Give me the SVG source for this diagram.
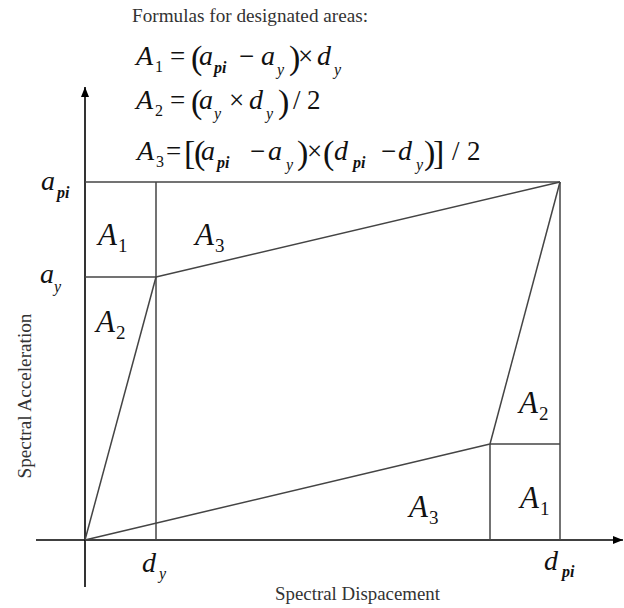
<svg xmlns="http://www.w3.org/2000/svg" width="624" height="608" viewBox="0 0 624 608">
<defs>
<style>
.ax{stroke:#000;stroke-width:1.6;fill:none}
.ln{stroke:#444;stroke-width:1.5;fill:none}
.t{font-size:18px;fill:#333}
.m{font-size:28px;font-style:italic}
.o{font-size:27px}
.p{font-size:34px}
.s{font-size:16px;font-style:italic}
.sb{font-size:16px;font-style:italic;font-weight:bold}
.n{font-size:16px}
.L{font-size:31px;font-style:italic}
.Ln{font-size:19px}
</style>
<marker id="arr" viewBox="0 0 10 10" refX="10" refY="5" markerWidth="10" markerHeight="10" markerUnits="userSpaceOnUse" orient="auto">
<path d="M0,1 L10,5 L0,9 Z" fill="#000"/>
</marker>
</defs>
<rect width="624" height="608" fill="#fff"/>

<g id="connectors">
<line class="ax" x1="85" y1="587" x2="85" y2="87" marker-end="url(#arr)"/>
<line class="ax" x1="36" y1="540" x2="623" y2="540" marker-end="url(#arr)"/>
<line class="ln" x1="85" y1="182" x2="560" y2="182"/>
<line class="ln" x1="156" y1="182" x2="156" y2="540"/>
<line class="ln" x1="85" y1="277" x2="156" y2="277"/>
<line class="ln" x1="156" y1="277" x2="560" y2="182"/>
<line class="ln" x1="85" y1="540" x2="156" y2="277"/>
<line class="ln" x1="560" y1="182" x2="560" y2="540"/>
<line class="ln" x1="85" y1="540" x2="490" y2="444"/>
<line class="ln" x1="490" y1="444" x2="560" y2="182"/>
<line class="ln" x1="490" y1="444" x2="560" y2="444"/>
<line class="ln" x1="490" y1="444" x2="490" y2="540"/>
</g>

<g font-family="'Liberation Serif', 'DejaVu Serif', serif" fill="#111">
<g id="title">
<text class="t" x="132" y="22" textLength="236" lengthAdjust="spacingAndGlyphs">Formulas for designated areas:</text>
</g>

<g id="formula1">
<text class="m" x="136" y="65">A</text><text class="n" x="155" y="72">1</text>
<text class="o" x="170" y="65">=</text>
<text class="p" x="191" y="69">(</text>
<text class="m" x="199" y="65">a</text><text class="sb" x="214" y="73">pi</text>
<text class="o" x="239" y="65">−</text>
<text class="m" x="261" y="65">a</text><text class="s" x="277" y="75">y</text>
<text class="p" x="289" y="69">)</text>
<text class="o" x="298" y="65">×</text>
<text class="m" x="317" y="65">d</text><text class="s" x="334" y="75">y</text>
</g>

<g id="formula2">
<text class="m" x="136" y="109">A</text><text class="n" x="155" y="116">2</text>
<text class="o" x="170" y="109">=</text>
<text class="p" x="191" y="113">(</text>
<text class="m" x="199" y="109">a</text><text class="s" x="214" y="119">y</text>
<text class="o" x="229" y="109">×</text>
<text class="m" x="249" y="109">d</text><text class="s" x="266" y="119">y</text>
<text class="p" x="278" y="113">)</text>
<text class="o" x="293" y="109">/</text>
<text class="o" x="307" y="109">2</text>
</g>

<g id="formula3">
<text class="m" x="137" y="160">A</text><text class="n" x="156" y="167">3</text>
<text class="o" x="166" y="160">=</text>
<text class="p" x="184" y="164">[</text>
<text class="p" x="194" y="164">(</text>
<text class="m" x="201" y="160">a</text><text class="sb" x="217" y="168">pi</text>
<text class="o" x="250" y="160">−</text>
<text class="m" x="268" y="160">a</text><text class="s" x="286" y="170">y</text>
<text class="p" x="297" y="164">)</text>
<text class="o" x="307" y="160">×</text>
<text class="p" x="323" y="164">(</text>
<text class="m" x="334" y="160">d</text><text class="sb" x="353" y="168">pi</text>
<text class="o" x="381" y="160">−</text>
<text class="m" x="398" y="160">d</text><text class="s" x="416" y="170">y</text>
<text class="p" x="424" y="164">)</text>
<text class="p" x="433" y="164">]</text>
<text class="o" x="452" y="160">/</text>
<text class="o" x="467" y="160">2</text>
</g>

<g id="area-labels">
<text class="L" x="98" y="245">A</text><text class="Ln" x="118" y="252">1</text>
<text class="L" x="195" y="245">A</text><text class="Ln" x="215" y="252">3</text>
<text class="L" x="96" y="332">A</text><text class="Ln" x="116" y="339">2</text>
<text class="L" x="519" y="413">A</text><text class="Ln" x="539" y="420">2</text>
<text class="L" x="520" y="508">A</text><text class="Ln" x="540" y="515">1</text>
<text class="L" x="409" y="517">A</text><text class="Ln" x="429" y="524">3</text>
</g>

<g id="axis-ticks">
<text class="m" x="41" y="190">a</text><text class="sb" x="57" y="198">pi</text>
<text class="m" x="40" y="283">a</text><text class="s" x="54" y="292">y</text>
<text class="m" x="142" y="572">d</text><text class="s" x="159" y="579">y</text>
<text class="m" x="544" y="570">d</text><text class="sb" x="562" y="577">pi</text>
</g>

<g id="axis-titles">
<text class="t" x="275" y="600" textLength="165" lengthAdjust="spacingAndGlyphs">Spectral Dispacement</text>
<text class="t" transform="translate(31,396) rotate(-90)" text-anchor="middle" textLength="165" lengthAdjust="spacingAndGlyphs">Spectral Acceleration</text>
</g>
</g>
</svg>
